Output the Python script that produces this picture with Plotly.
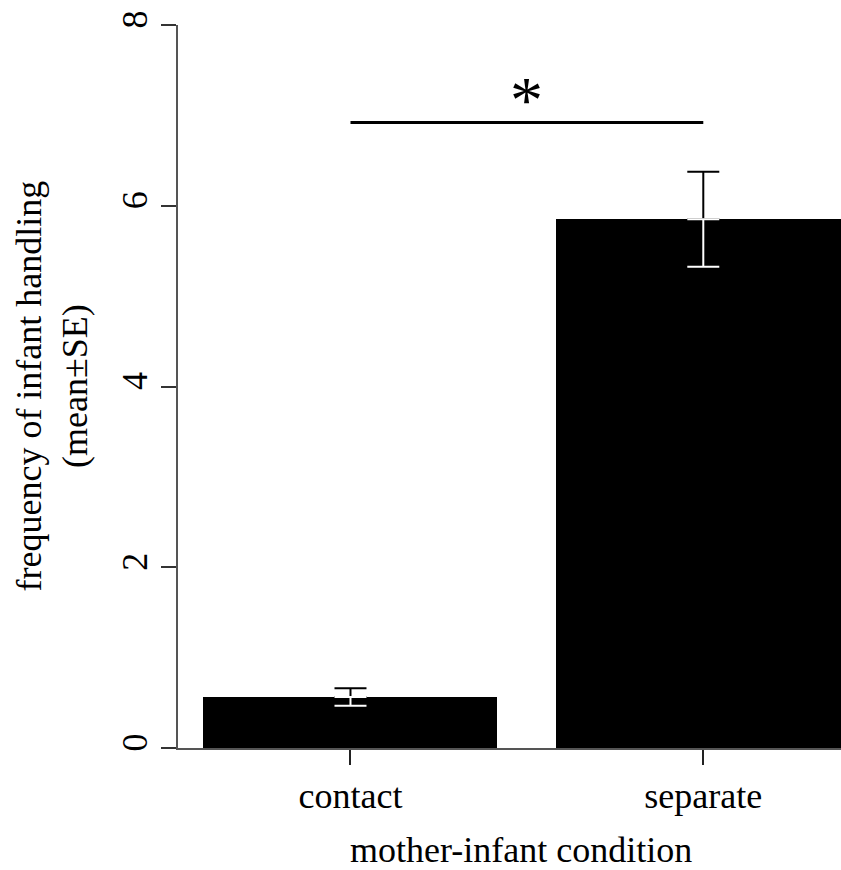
import plotly.graph_objects as go

# Infant handling frequency by mother-infant condition (mean ± SE)
categories = ["contact", "separate"]
means = [0.565, 5.85]
se = [0.097, 0.525]

# significance bracket between the two conditions
sig_level = 6.92
sig_label = "*"
sig_label_level = 7.27

y_ticks = [0, 2, 4, 6, 8]

# bar layout in the style of R's barplot(): unit width, 0.2 spacing
bar_width = 1.0
bar_space = 0.2
mids = [bar_space + bar_width / 2 + i * (bar_width + bar_space) for i in range(len(categories))]

FONT = "Liberation Serif, Times New Roman, serif"
AXIS_GREY = "#555555"

fig = go.Figure()

fig.add_trace(go.Bar(
    x=mids, y=means, width=bar_width,
    marker=dict(color="black", line=dict(width=0)),
    showlegend=False, hoverinfo="skip",
))

# upper half of each error bar in black, lower half (inside the bar) in white
fig.add_trace(go.Scatter(
    x=mids, y=means, mode="markers",
    marker=dict(size=1, color="rgba(0,0,0,0)"),
    error_y=dict(type="data", symmetric=False, array=se, arrayminus=[0] * len(se),
                 color="black", thickness=2, width=16),
    showlegend=False, hoverinfo="skip",
))
fig.add_trace(go.Scatter(
    x=mids, y=means, mode="markers",
    marker=dict(size=1, color="rgba(0,0,0,0)"),
    error_y=dict(type="data", symmetric=False, array=[0] * len(se), arrayminus=se,
                 color="white", thickness=2, width=16),
    showlegend=False, hoverinfo="skip",
))

# significance line
fig.add_trace(go.Scatter(
    x=[mids[0], mids[1]], y=[sig_level, sig_level], mode="lines",
    line=dict(color="black", width=3),
    showlegend=False, hoverinfo="skip",
))

fig.add_annotation(
    x=(mids[0] + mids[1]) / 2, y=sig_label_level, xref="x", yref="y",
    text=sig_label, showarrow=False, font=dict(family=FONT, size=66, color="black"),
    xanchor="center", yanchor="middle", yshift=-9,
)

# axis titles
fig.add_annotation(
    x=-0.19, y=0.5, xref="paper", yref="paper",
    text="frequency of infant handling<br>(mean±SE)", textangle=-90,
    showarrow=False, font=dict(family=FONT, size=36, color="black"),
    xanchor="center", yanchor="middle",
)
fig.add_annotation(
    x=0.5173, y=-0.1416, xref="paper", yref="paper",
    text="mother-infant condition",
    showarrow=False, font=dict(family=FONT, size=36, color="black"),
    xanchor="center", yanchor="middle",
)

fig.update_layout(
    width=841, height=870,
    margin=dict(l=178, r=0, t=25, b=122),
    paper_bgcolor="white", plot_bgcolor="white",
    font=dict(family=FONT, size=36, color="black"),
    bargap=0,
    xaxis=dict(
        range=[0.1133, 2.3684],
        tickmode="array", tickvals=mids, ticktext=categories,
        ticks="outside", ticklen=15, tickwidth=1.5, tickcolor="#222222",
        showline=True, linecolor=AXIS_GREY, linewidth=2,
        showgrid=False, zeroline=False,
        tickfont=dict(family=FONT, size=36, color="black"),
    ),
    yaxis=dict(
        range=[0, 8],
        tickmode="array", tickvals=y_ticks, ticktext=[str(v) for v in y_ticks],
        tickangle=-90,
        ticks="outside", ticklen=15, tickwidth=1.5, tickcolor="#333333",
        showline=True, linecolor=AXIS_GREY, linewidth=2,
        showgrid=False, zeroline=False,
        tickfont=dict(family=FONT, size=36, color="black"),
    ),
)

fig.write_html("out.html")
